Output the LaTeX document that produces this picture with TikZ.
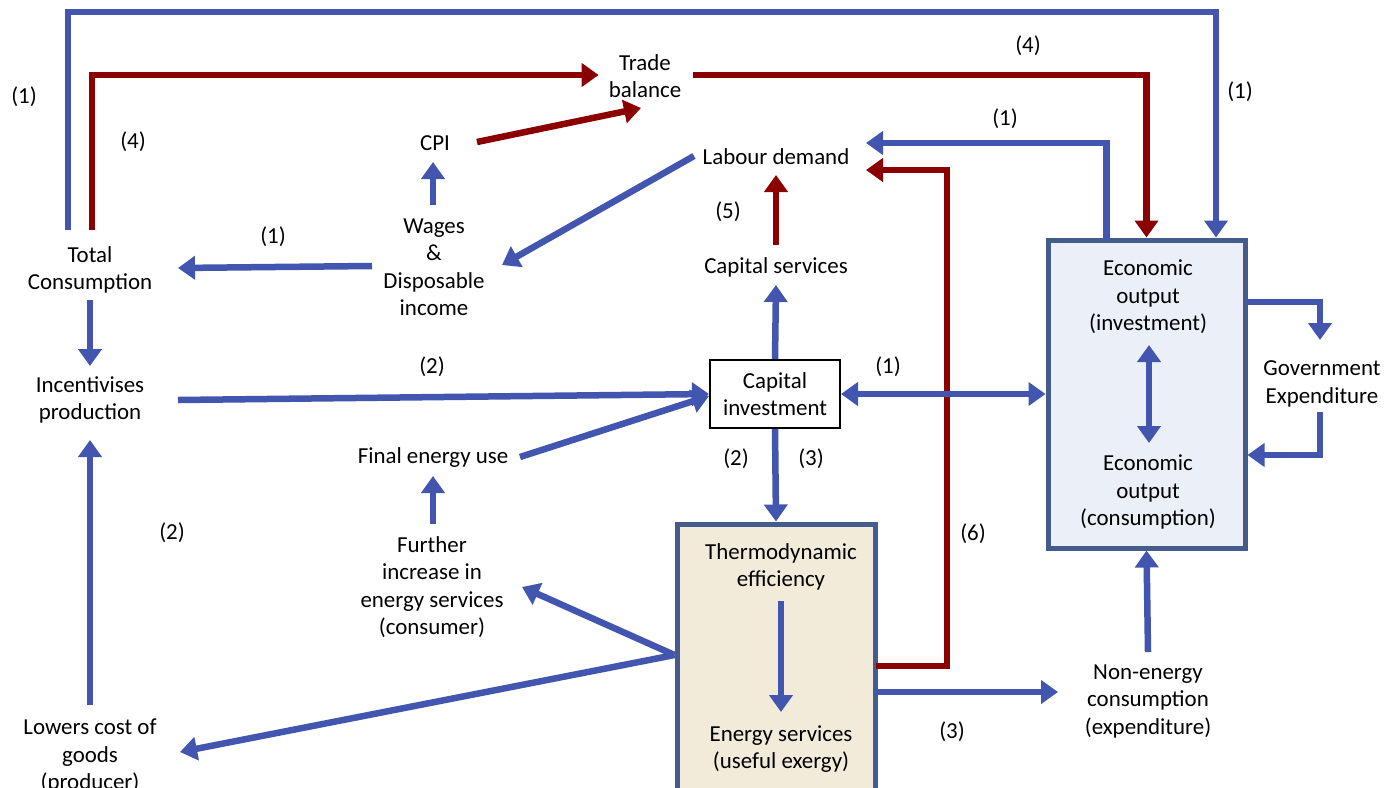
\documentclass[tikz,border=0pt]{standalone}
\usepackage{fontspec}
\setmainfont{Carlito}
\usetikzlibrary{arrows.meta,calc}
\definecolor{blu}{RGB}{66,85,175}
\definecolor{dred}{RGB}{139,0,0}
\definecolor{boxedge}{RGB}{68,92,140}
\definecolor{ecofill}{RGB}{234,239,248}
\definecolor{thfill}{RGB}{242,235,218}
\begin{document}
\begin{tikzpicture}[x=1pt,y=-1pt,
  font=\fontsize{22.9}{27.5}\selectfont,
  txt/.style={align=center,inner sep=0pt},
  lbl/.style={inner sep=0pt},
  bigbox/.style={draw=boxedge,line width=5pt,inner sep=0pt},
  tip/.style={-{Triangle[length=17pt,width=23pt]}},
  dtip/.style={{Triangle[length=17pt,width=23pt]}-{Triangle[length=17pt,width=23pt]}},
  bline/.style={draw=blu,line width=6.5pt},
  rline/.style={draw=dred,line width=6.5pt}]
\clip (0,0) rectangle (1396,787);
\fill[white] (0,0) rectangle (1396,787);
% boxes
\node[bigbox,fill=thfill,minimum width=198pt,minimum height=290pt] (thermo) at (776,669) {};
\node[bigbox,fill=ecofill,minimum width=197pt,minimum height=308pt] (eco) at (1146.5,394) {};
\node[draw=black,line width=2pt,fill=white,minimum width=130pt,minimum height=68pt,align=center,inner sep=0pt] (capinv) at (775,394) {Capital\\investment};
% text nodes
\node[txt] (tc) at (90,270) {Total\\Consumption};
\node[txt] (inc) at (90,400) {Incentivises\\production};
\node[txt] (low) at (90,756) {Lowers cost of\\goods\\(producer)};
\node[txt] (trade) at (645,76) {Trade\\balance};
\node[txt] (cpi) at (435,143) {CPI};
\node[txt] (wages) at (434,267) {Wages\\\&\\Disposable\\income};
\node[txt] (labour) at (776,157) {Labour demand};
\node[txt] (capserv) at (776,267) {Capital services};
\node[txt] (final) at (433,458) {Final energy use};
\node[txt] (further) at (432,587) {Further\\increase in\\energy services\\(consumer)};
\node[txt] (thermoeff) at (781,567) {Thermodynamic\\efficiency};
\node[txt] (esrv) at (781,749) {Energy services\\(useful exergy)};
\node[txt] (ecoinv) at (1148,297) {Economic\\output\\(investment)};
\node[txt] (ecocon) at (1148,492) {Economic\\output\\(consumption)};
\node[txt] (gov) at (1322,384) {Government\\Expenditure};
\node[txt] (nonen) at (1148,701) {Non-energy\\consumption\\(expenditure)};
% bend coordinates
\coordinate (topR) at (1216,12);
\coordinate (redB) at (947,170);
% connectors
\draw[bline,tip] ($(tc)+(-22,-40)$) |- (topR) -- (topR |- eco.north);
\draw[rline,tip] ($(tc)+(2,-40)$) |- ($(trade.west)+(-10,-1)$);
\draw[rline,tip] ($(trade.east)+(12,-1)$) -| (eco.north);
\draw[rline,tip] ($(cpi)+(42,-1)$) -- ($(trade)+(-4,32)$);
\draw[bline,tip] ($(wages)+(-1,-62)$) -- ($(cpi)+(-2,19)$);
\draw[bline,tip] ($(wages)+(-62,-1)$) -- ($(tc)+(88,-2)$);
\draw[bline,tip] ($(labour)+(-82,-1)$) -- ($(wages)+(68,-2)$);
\draw[bline,tip] ($(eco.north)+(-40,2)$) |- ($(labour)+(90,-14)$);
\draw[rline,tip] ($(thermo.east)+(-2,-3)$) -| (redB) -- ($(labour)+(90,13)$);
\draw[rline,tip] ($(capserv)+(0,-22)$) -- ($(labour)+(0,18)$);
\draw[bline,tip] (capinv.north) -- ($(capserv)+(0,18)$);
\draw[bline,dtip] (capinv.east) -- (eco.west |- capinv.east);
\draw[bline,dtip] ($(eco)+(2.5,-49)$) -- ($(eco)+(2.5,49)$);
\draw[bline,tip] ($(eco.east)+(-2,-92)$) -| ($(gov)+(-2,-44)$);
\draw[bline,tip] ($(gov)+(-2,28)$) |- ($(eco.east)+(0,61)$);
\draw[bline,tip] ($(inc)+(88,0)$) -- (capinv.west);
\draw[bline,tip] ($(final)+(87,-1)$) -- ($(capinv.west)+(0,2)$);
\draw[bline,tip] ($(further)+(1,-63)$) -- ($(final)+(0,18)$);
\draw[bline,tip] ($(thermo.west)+(0,-14)$) -- ($(further)+(90,0)$);
\draw[bline,tip] ($(thermo.west)+(0,-14)$) -- ($(low)+(90,-4)$);
\draw[bline,tip] ($(thermo.east)+(-2,23)$) -- ($(nonen)+(-90,-9)$);
\draw[bline,tip] ($(nonen)+(0,-49)$) -- (eco.south);
\draw[bline,tip] (capinv.south) -- (thermo.north);
\draw[bline,tip] ($(tc)+(0,30)$) -- ($(inc)+(0,-34)$);
\draw[bline,tip] ($(low)+(0,-51)$) -- ($(inc)+(0,40)$);
\draw[bline,tip] ($(thermoeff)+(0,34)$) -- ($(esrv)+(0,-37)$);
% labels
\node[lbl] (l1a) at (24,97) {(1)};
\node[lbl] (l1b) at (1240,92) {(1)};
\node[lbl] (l4a) at (133,142) {(4)};
\node[lbl] (l4b) at (1028,46) {(4)};
\node[lbl] (l1c) at (273,237) {(1)};
\node[lbl] (l1d) at (1005,119) {(1)};
\node[lbl] (l5) at (728,212) {(5)};
\node[lbl] (l6) at (973,534) {(6)};
\node[lbl] (l1e) at (888,367) {(1)};
\node[lbl] (l2a) at (432,367) {(2)};
\node[lbl] (l2b) at (736,459) {(2)};
\node[lbl] (l3a) at (811,459) {(3)};
\node[lbl] (l2c) at (172,533) {(2)};
\node[lbl] (l3b) at (952,732) {(3)};
\end{tikzpicture}
\end{document}
